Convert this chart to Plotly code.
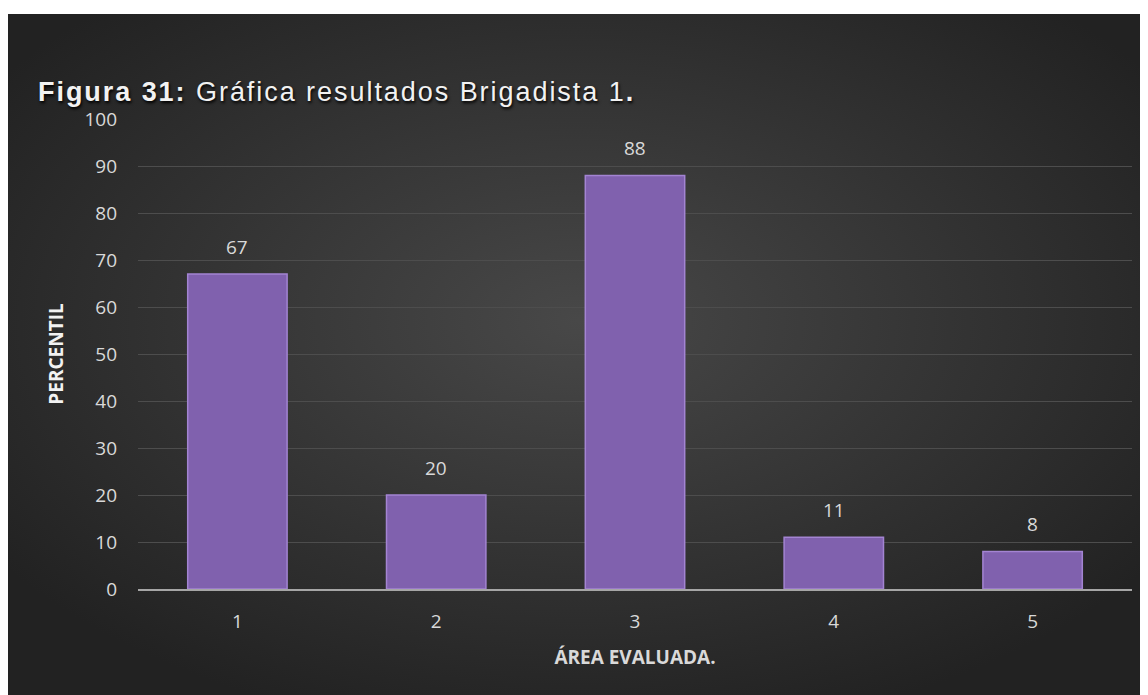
import plotly.graph_objects as go

categories = ["1", "2", "3", "4", "5"]
values = [67, 20, 88, 11, 8]
y_ticks = [0, 10, 20, 30, 40, 50, 60, 70, 80, 90, 100]

# page body has an 8px margin, so figure coordinates are offset by 8px
W, H = 1140, 687
L, R, T, B = 130, 16, 111, 106
pw, ph = W - L - R, H - T - B

def px_x(p):
    return (p - L) / pw

def px_y(p):
    return (H - B - p) / ph

bg_svg = (
    "data:image/svg+xml;utf8,"
    "<svg xmlns='http://www.w3.org/2000/svg' width='1140' height='681' preserveAspectRatio='none'>"
    "<defs><radialGradient id='g' cx='50%25' cy='45%25' r='62%25'>"
    "<stop offset='0' stop-color='%23484848'/>"
    "<stop offset='1' stop-color='%23222222'/>"
    "</radialGradient></defs>"
    "<rect width='1140' height='681' fill='url(%23g)'/></svg>"
)

fig = go.Figure()
fig.add_trace(go.Bar(
    x=categories, y=values,
    width=0.5,
    marker=dict(color="#8061ae", line=dict(color="#a384d2", width=1.5)),
    hoverinfo="x+y",
))

annotations = [
    dict(
        text="<span style='letter-spacing:1.95px'><b>Figura 31:</b> Gráfica resultados Brigadista 1<b>.</b></span>",
        xref="paper", yref="paper", x=px_x(28), y=px_y(84),
        xanchor="left", yanchor="middle", showarrow=False,
        font=dict(family="Liberation Sans", size=27, color="#f2f2f2",
                  shadow="1px 2px 3px #000000"),
    ),
]
for i, v in enumerate(values):
    annotations.append(dict(
        x=i, y=v, xref="x", yref="y", text=str(v), showarrow=False,
        yanchor="middle", yshift=27,
        font=dict(color="#d9d9d9", size=19, family="Open Sans"),
    ))

fig.update_layout(
    width=W, height=H,
    margin=dict(l=L, r=R, t=T, b=B),
    paper_bgcolor="white",
    plot_bgcolor="rgba(0,0,0,0)",
    showlegend=False,
    images=[dict(
        source=bg_svg, xref="paper", yref="paper",
        x=px_x(0), y=px_y(6),
        sizex=px_x(W) - px_x(0), sizey=px_y(6) - px_y(H),
        xanchor="left", yanchor="top", sizing="stretch", layer="below",
    )],
    annotations=annotations,
)

fig.update_xaxes(
    type="category", range=[-0.5, len(categories) - 0.5],
    tickfont=dict(color="#d9d9d9", size=19, family="Open Sans"),
    title=dict(text="<b>ÁREA EVALUADA.</b>", font=dict(color="#d9d9d9", size=19, family="Open Sans"), standoff=18),
    showgrid=False, showline=True, linecolor="#a6a6a6", linewidth=2,
    ticks="", ticklabelstandoff=14,
)
fig.update_yaxes(
    range=[0, 100], tickvals=y_ticks,
    tickfont=dict(color="#d9d9d9", size=19, family="Open Sans"),
    title=dict(text="<b>PERCENTIL</b>", font=dict(color="#f2f2f2", size=19, family="Open Sans"), standoff=15),
    showgrid=True, gridcolor="#4d4d4d", gridwidth=1,
    zeroline=False, ticks="", ticklabelstandoff=20,
)

fig.write_html("out.html")
